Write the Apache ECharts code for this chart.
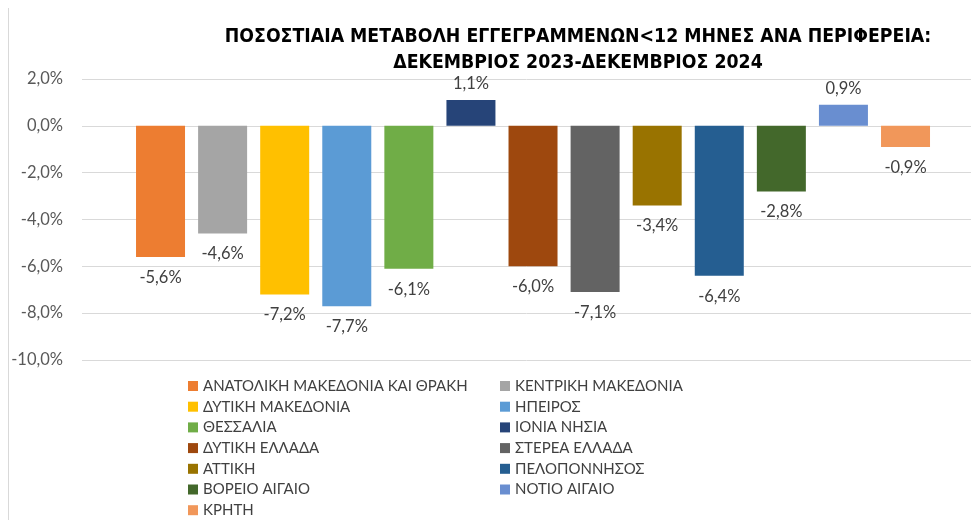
<!DOCTYPE html>
<html>
<head>
<meta charset="utf-8">
<script src="https://cdn.jsdelivr.net/npm/echarts@6/dist/echarts.min.js"></script>
<style>
  html, body { margin: 0; padding: 0; background: #fff; }
  #chart { width: 971px; height: 520px; }
</style>
</head>
<body>
<div id="chart"></div>
<script>
// regions (legend order) and their % change Dec 2023 -> Dec 2024
const regions = [
  'ΑΝΑΤΟΛΙΚΗ ΜΑΚΕΔΟΝΙΑ ΚΑΙ ΘΡΑΚΗ', 'ΚΕΝΤΡΙΚΗ ΜΑΚΕΔΟΝΙΑ', 'ΔΥΤΙΚΗ ΜΑΚΕΔΟΝΙΑ',
  'ΗΠΕΙΡΟΣ', 'ΘΕΣΣΑΛΙΑ', 'ΙΟΝΙΑ ΝΗΣΙΑ', 'ΔΥΤΙΚΗ ΕΛΛΑΔΑ', 'ΣΤΕΡΕΑ ΕΛΛΑΔΑ',
  'ΑΤΤΙΚΗ', 'ΠΕΛΟΠΟΝΝΗΣΟΣ', 'ΒΟΡΕΙΟ ΑΙΓΑΙΟ', 'ΝΟΤΙΟ ΑΙΓΑΙΟ', 'ΚΡΗΤΗ'
];
const changes = [-5.6, -4.6, -7.2, -7.7, -6.1, 1.1, -6.0, -7.1, -3.4, -6.4, -2.8, 0.9, -0.9];
const colors = [
  '#ED7D31', '#A5A5A5', '#FFC000', '#5B9BD5', '#70AD47', '#264478', '#9E480E',
  '#636363', '#997300', '#255E91', '#43682B', '#698ED0', '#F1975A'
];
const yTicks = { min: -10, max: 2, step: 2 };

const pct = (v) => v.toFixed(1).replace('.', ',') + '%';
const font = 'Lato, "Open Sans", sans-serif';

const chart = echarts.init(document.getElementById('chart'));

const BAR_GAP = '26.7%';

const series = regions.map((name, i) => ({
  name,
  type: 'bar',
  data: [changes[i]],
  barWidth: 49,
  barGap: BAR_GAP,
  itemStyle: { color: colors[i] },
  label: {
    show: true,
    position: changes[i] < 0 ? 'bottom' : 'top',
    distance: changes[i] < 0 ? 12 : 8,
    formatter: (p) => pct(p.value),
    color: '#404040',
    fontSize: 16.5,
    fontFamily: font
  }
}));

// empty slot in front of the group: nudges the bars right like in the original
series.unshift({
  name: 'spacer',
  type: 'bar',
  data: ['-'],
  barWidth: 10.3,
  barGap: BAR_GAP,
  silent: true
});

// legend in two columns, row-major like the original
const legendBase = {
  orient: 'vertical',
  top: 378,
  padding: 0,
  itemWidth: 10,
  itemHeight: 10,
  itemGap: 4.7,
  icon: 'rect',
  textStyle: { fontSize: 15, lineHeight: 16, color: '#404040', fontFamily: font }
};

chart.setOption({
  animation: false,
  title: {
    text: 'ΠΟΣΟΣΤΙΑΙΑ ΜΕΤΑΒΟΛΗ ΕΓΓΕΓΡΑΜΜΕΝΩΝ<12 ΜΗΝΕΣ ΑΝΑ ΠΕΡΙΦΕΡΕΙΑ:\nΔΕΚΕΜΒΡΙΟΣ 2023-ΔΕΚΕΜΒΡΙΟΣ 2024',
    left: 573,
    textAlign: 'center',
    top: 19,
    textStyle: {
      fontSize: 19.3,
      fontWeight: 'bold',
      lineHeight: 26,
      color: '#000',
      fontFamily: '"Liberation Sans Narrow", "DejaVu Sans Condensed", sans-serif'
    }
  },
  legend: [
    Object.assign({}, legendBase, { left: 188, data: regions.filter((_, i) => i % 2 === 0) }),
    Object.assign({}, legendBase, { left: 500, data: regions.filter((_, i) => i % 2 === 1) })
  ],
  grid: { left: 82, right: 0, top: 79, bottom: 160 },
  xAxis: {
    type: 'category',
    data: [''],
    axisLine: { show: false },
    axisTick: { show: false },
    axisLabel: { show: false }
  },
  yAxis: {
    type: 'value',
    min: yTicks.min,
    max: yTicks.max,
    interval: yTicks.step,
    axisLabel: {
      formatter: (v) => pct(v),
      color: '#595959',
      fontSize: 16.5,
      fontFamily: font,
      margin: 19
    },
    splitLine: { lineStyle: { color: '#D9D9D9', width: 1 } }
  },
  graphic: [{
    type: 'line',
    shape: { x1: 8.5, y1: 8, x2: 8.5, y2: 520 },
    style: { stroke: '#D9D9D9', lineWidth: 1 }
  }],
  series
});
</script>
</body>
</html>
